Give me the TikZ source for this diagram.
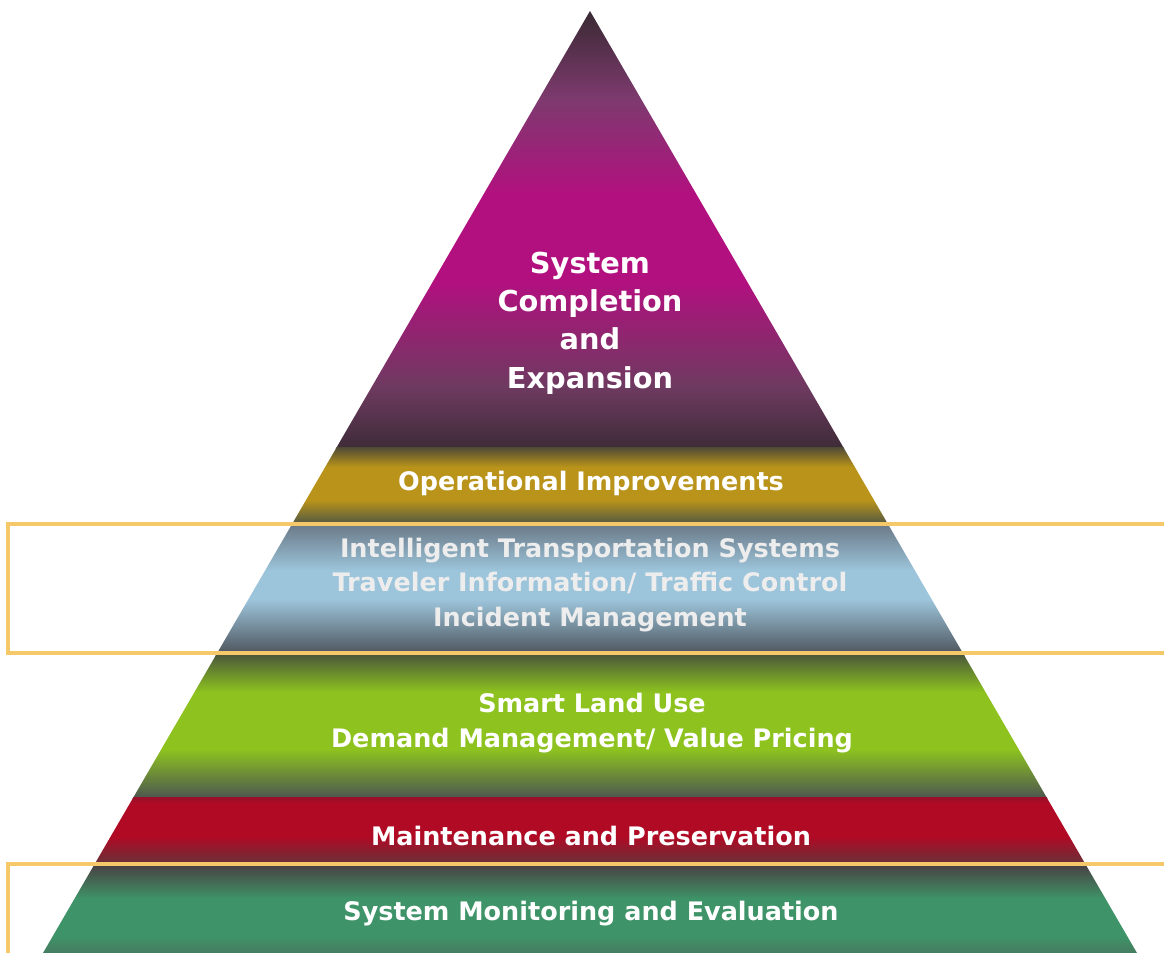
\documentclass[tikz,border=0pt]{standalone}
\usepackage{fontspec}
\setmainfont{DejaVu Sans}
\usepackage{tikz}

\definecolor{plumdark}{HTML}{3A2A33}
\definecolor{plummauve}{HTML}{7D3A6E}
\definecolor{plum}{HTML}{B2107F}
\definecolor{plumlow}{HTML}{6E3A60}
\definecolor{plumbase}{HTML}{3E2C38}
\definecolor{golddark}{HTML}{4E4A36}
\definecolor{gold}{HTML}{B9931A}
\definecolor{goldbase}{HTML}{565A42}
\definecolor{slatetop}{HTML}{687684}
\definecolor{slatedark}{HTML}{4A5058}
\definecolor{skyblue}{HTML}{9CC4DA}
\definecolor{olivedark}{HTML}{4C5A3A}
\definecolor{lime}{HTML}{8DC21F}
\definecolor{limebase}{HTML}{4C5650}
\definecolor{crimsontop}{HTML}{98102A}
\definecolor{crimson}{HTML}{B00A25}
\definecolor{crimsondark}{HTML}{6A3038}
\definecolor{seadark}{HTML}{4A3A40}
\definecolor{seagreen}{HTML}{3E9468}
\definecolor{seabase}{HTML}{467A60}
\definecolor{frameyellow}{HTML}{F5C96A}

% tier shadings, visible part 25bp (bottom) to 75bp (top)
\pgfdeclareverticalshading{plumtier}{100bp}{color(0bp)=(plumbase); color(25bp)=(plumbase); color(32bp)=(plumlow); color(44bp)=(plum); color(54bp)=(plum); color(65bp)=(plummauve); color(75bp)=(plumdark); color(100bp)=(plumdark)}
\pgfdeclareverticalshading{goldtier}{100bp}{color(0bp)=(goldbase); color(25bp)=(goldbase); color(40bp)=(gold); color(62bp)=(gold); color(75bp)=(golddark); color(100bp)=(golddark)}
\pgfdeclareverticalshading{skytier}{100bp}{color(0bp)=(slatedark); color(25bp)=(slatedark); color(46bp)=(skyblue); color(57bp)=(skyblue); color(75bp)=(slatetop); color(100bp)=(slatetop)}
\pgfdeclareverticalshading{limetier}{100bp}{color(0bp)=(limebase); color(25bp)=(limebase); color(42bp)=(lime); color(62bp)=(lime); color(75bp)=(olivedark); color(100bp)=(olivedark)}
\pgfdeclareverticalshading{crimsontier}{100bp}{color(0bp)=(crimsondark); color(25bp)=(crimsondark); color(45bp)=(crimson); color(70bp)=(crimson); color(75bp)=(crimsontop); color(100bp)=(crimsontop)}
\pgfdeclareverticalshading{seatier}{100bp}{color(0bp)=(seabase); color(25bp)=(seabase); color(35bp)=(seagreen); color(55bp)=(seagreen); color(75bp)=(seadark); color(100bp)=(seadark)}

\tikzset{
  tiertext/.style={text=white, font=\bfseries\fontsize{14.5}{19.6}\selectfont, align=center, inner sep=0pt},
  framebox/.style={draw=frameyellow, line width=2.2pt}
}

\begin{document}
\begin{tikzpicture}[x=0.02cm,y=-0.02cm]
\useasboundingbox (0,0) rectangle (1164,953);

% pyramid bands
\begin{scope}
\clip (590,11) -- (1137,953) -- (43,953) -- cycle;
\shade[shading=plumtier] (0,11) rectangle (1164,448);
\shade[shading=goldtier] (0,447) rectangle (1164,523);
\shade[shading=skytier] (0,522) rectangle (1164,656);
\shade[shading=limetier] (0,655) rectangle (1164,798);
\shade[shading=crimsontier] (0,797) rectangle (1164,863);
\shade[shading=seatier] (0,862) rectangle (1164,954);
\end{scope}

% frames
\draw[framebox] (1180,524) -- (8,524) -- (8,653) -- (1180,653);
\draw[framebox] (1180,864) -- (8,864) -- (8,970);

% texts
\node (expansion) at (590,323) [tiertext, font=\bfseries\fontsize{16.4}{21.8}\selectfont] {System\\Completion\\and\\Expansion};
\node (operational) at (591,483) [tiertext] {Operational Improvements};
\node (its) at (590,585) [tiertext, text=white!93!black] {Intelligent Transportation Systems\\Traveler Information/ Traffic Control\\Incident Management};
\node (landuse) at (592,723) [tiertext] {Smart Land Use\\Demand Management/ Value Pricing};
\node (maintenance) at (591,836) [tiertext] {Maintenance and Preservation};
\node (monitoring) at (591,914) [tiertext] {System Monitoring and Evaluation};
\end{tikzpicture}
\end{document}
